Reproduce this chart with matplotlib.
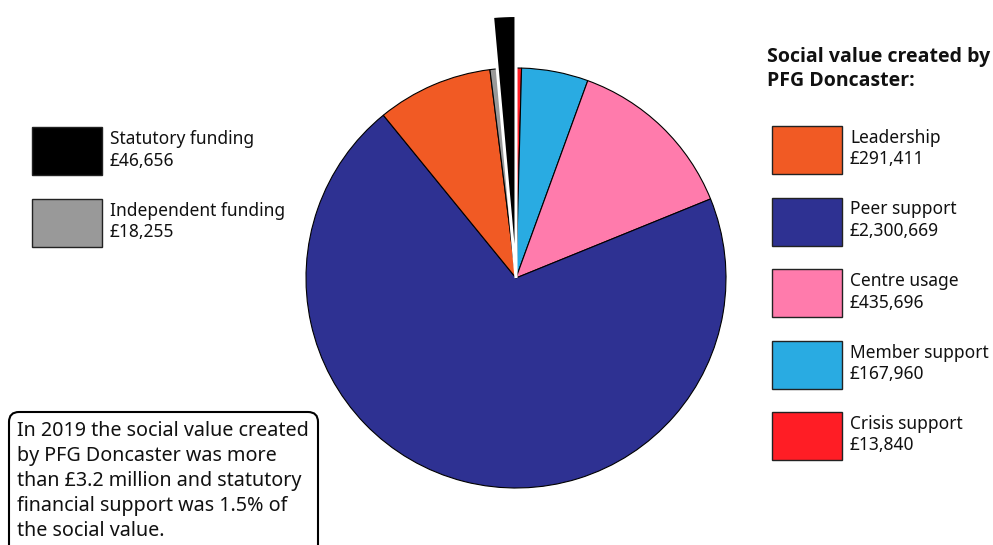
import matplotlib
matplotlib.use("Agg")
import matplotlib.pyplot as plt
import matplotlib.patches as mpatches

# Data (clockwise from 12 o'clock)
categories = ["Crisis support", "Member support", "Centre usage", "Peer support",
              "Leadership", "Independent funding", "Statutory funding"]
values = [13840, 167960, 435696, 2300669, 291411, 18255, 46656]
colors = ["#FF1D25", "#29ABE2", "#FF7BAC", "#2E3192", "#F15A24", "#999999", "#000000"]
value_labels = ["£13,840", "£167,960", "£435,696", "£2,300,669", "£291,411", "£18,255", "£46,656"]

right_legend = ["Leadership", "Peer support", "Centre usage", "Member support", "Crisis support"]
left_legend = ["Statutory funding", "Independent funding"]

title = "Social value created by\nPFG Doncaster:"
note = ("In 2019 the social value created\nby PFG Doncaster was more\n"
        "than £3.2 million and statutory\nfinancial support was 1.5% of\nthe social value.")

W, H = 993, 545
plt.rcParams['font.family'] = ['Noto Sans', 'DejaVu Sans']
fig = plt.figure(figsize=(W / 100, H / 100), dpi=100)
ax = fig.add_axes([0, 0, 1, 1])

cx, cy, R = 516, H - 278, 210
wedges, _ = ax.pie(values, colors=colors, startangle=90, counterclock=False,
                   center=(cx, cy), radius=R,
                   wedgeprops=dict(edgecolor="black", linewidth=0.8))
# statutory funding wedge emphasised
stat = wedges[categories.index("Statutory funding")]
stat.set_radius(R * 1.25)
stat.set_edgecolor("white")
stat.set_linewidth(2.2)
stat.set_zorder(3)

ax.set_xlim(0, W)
ax.set_ylim(0, H)
ax.set_aspect("equal")
ax.axis("off")

fs = 12.5
def legend_item(x, ytop, name):
    i = categories.index(name)
    ax.add_patch(mpatches.Rectangle((x, H - ytop - 48), 70, 48, facecolor=colors[i],
                                    edgecolor="#222222", linewidth=1))
    ax.text(x + 78, H - ytop - 3, name + "\n" + value_labels[i], ha="left", va="top",
            fontsize=fs, linespacing=1.25, color="#111111")

for k, name in enumerate(left_legend):
    legend_item(32, 127 + k * 71.5, name)
for k, name in enumerate(right_legend):
    legend_item(772, 126 + k * 71.5, name)

ax.text(767, H - 47, title, ha="left", va="top", fontsize=14, fontweight="bold",
        family=["Open Sans", "DejaVu Sans"], linespacing=1.25, color="#111111")

box = mpatches.FancyBboxPatch((9, -30), 309, H - 412 + 30,
                              boxstyle="round,pad=0,rounding_size=10",
                              facecolor="white", edgecolor="black", linewidth=1.5, clip_on=False)
ax.add_patch(box)
ax.text(17, H - 421, note, ha="left", va="top", fontsize=14.2, linespacing=1.33,
        color="#111111")

fig.savefig("out.png", dpi=100)
